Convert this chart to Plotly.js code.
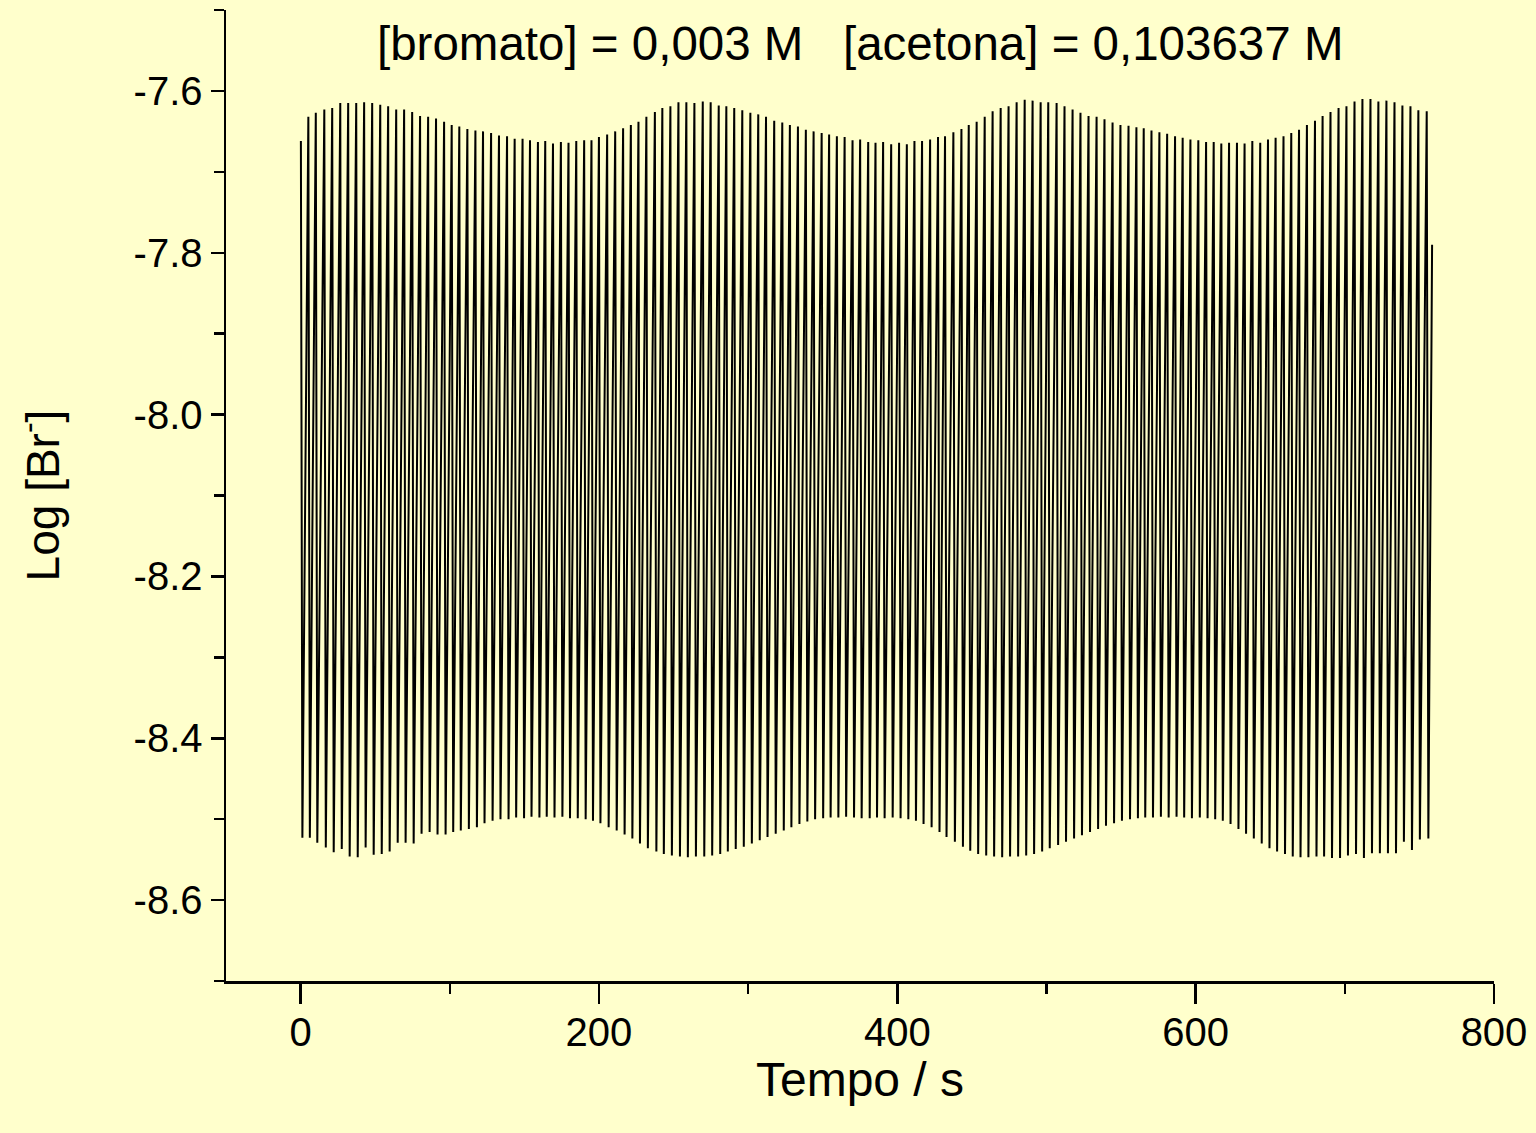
<!DOCTYPE html>
<html>
<head>
<meta charset="utf-8">
<script src="https://cdn.plot.ly/plotly-3.0.1.min.js"></script>
<style>
html,body{margin:0;padding:0;background:#FFFFCC;}
#chart{width:1536px;height:1133px;}
</style>
</head>
<body>
<div id="chart"></div>
<script>
// Times of each spike maximum (s)
const peakTimes = [
0.2,5.2,10.2,15.9,21.2,26.6,31.9,37.3,42.6,48.0,53.4,58.7,64.1,69.4,74.8,80.1,85.5,90.8,96.2,101.3,106.4,111.8,117.2,122.3,127.7,133.0,138.4,143.5,148.8,153.8,159.1,164.0,169.2,174.5,179.6,184.8,
190.1,195.0,200.0,205.5,210.9,216.2,221.4,226.5,231.8,237.5,242.5,247.9,253.3,258.6,264.0,269.6,274.9,280.3,285.4,290.7,296.1,301.5,306.8,312.0,317.5,322.9,328.0,333.4,338.7,343.9,349.3,354.3,359.5,364.7,370.0,375.1,
380.5,385.4,390.5,395.9,401.2,406.4,411.5,416.6,422.0,427.3,432.0,437.6,443.0,447.9,453.2,458.6,463.9,469.3,474.6,480.0,485.4,490.7,496.1,501.2,506.8,512.1,517.5,522.8,528.2,533.6,538.9,544.3,549.6,555.0,560.3,565.2,
570.4,575.7,580.9,586.2,591.3,596.5,601.8,607.0,612.1,617.2,622.4,627.7,632.8,638.0,643.3,648.5,653.6,658.9,664.1,669.3,674.6,680.0,685.1,690.4,695.8,701.1,706.5,711.8,717.2,722.5,727.9,733.3,738.6,744.0,749.3,754.9
];
// Log[Br-] at each spike maximum
const peakValues = [
-7.662,-7.632,-7.627,-7.623,-7.621,-7.615,-7.615,-7.615,-7.614,-7.615,-7.617,-7.619,-7.623,-7.623,-7.626,-7.631,-7.632,-7.634,-7.638,-7.642,-7.644,-7.647,-7.649,-7.650,-7.652,-7.655,-7.656,-7.659,-7.659,-7.661,-7.663,-7.662,-7.665,-7.663,-7.664,-7.662,
-7.661,-7.661,-7.657,-7.654,-7.650,-7.646,-7.642,-7.638,-7.632,-7.626,-7.621,-7.619,-7.614,-7.614,-7.615,-7.613,-7.614,-7.618,-7.619,-7.621,-7.624,-7.627,-7.629,-7.632,-7.637,-7.639,-7.642,-7.644,-7.648,-7.650,-7.652,-7.654,-7.656,-7.657,-7.661,-7.660,
-7.663,-7.664,-7.663,-7.666,-7.664,-7.666,-7.662,-7.662,-7.660,-7.657,-7.656,-7.651,-7.647,-7.642,-7.638,-7.632,-7.625,-7.621,-7.619,-7.614,-7.611,-7.612,-7.614,-7.614,-7.615,-7.619,-7.623,-7.627,-7.631,-7.632,-7.635,-7.639,-7.642,-7.643,-7.645,-7.646,
-7.649,-7.651,-7.653,-7.656,-7.658,-7.660,-7.661,-7.663,-7.663,-7.665,-7.664,-7.664,-7.665,-7.662,-7.664,-7.660,-7.658,-7.656,-7.652,-7.648,-7.642,-7.637,-7.631,-7.626,-7.621,-7.619,-7.613,-7.610,-7.610,-7.613,-7.612,-7.614,-7.618,-7.619,-7.624,-7.625
];
// Times of each minimum following a spike (s)
const troughTimes = [
1.2,6.2,11.2,16.9,22.2,27.6,32.9,38.3,43.6,49.0,54.4,59.7,65.1,70.4,75.8,81.1,86.5,91.8,97.2,102.3,107.4,112.8,118.2,123.3,128.7,134.0,139.4,144.5,149.8,154.8,160.1,165.0,170.2,175.5,180.6,185.8,
191.1,196.0,201.0,206.5,211.9,217.2,222.4,227.5,232.8,238.5,243.5,248.9,254.3,259.6,265.0,270.6,275.9,281.3,286.4,291.7,297.1,302.5,307.8,313.0,318.5,323.9,329.0,334.4,339.7,344.9,350.3,355.3,360.5,365.7,371.0,376.1,
381.5,386.4,391.5,396.9,402.2,407.4,412.5,417.6,423.0,428.3,433.0,438.6,444.0,448.9,454.2,459.6,464.9,470.3,475.6,481.0,486.4,491.7,497.1,502.2,507.8,513.1,518.5,523.8,529.2,534.6,539.9,545.3,550.6,556.0,561.3,566.2,
571.4,576.7,581.9,587.2,592.3,597.5,602.8,608.0,613.1,618.2,623.4,628.7,633.8,639.0,644.3,649.5,654.6,659.9,665.1,670.3,675.6,681.0,686.1,691.4,696.8,702.1,707.5,712.8,718.2,723.5,728.9,734.3,739.6,745.0,750.3,756.0
];
// Log[Br-] at each minimum
const troughValues = [
-8.523,-8.523,-8.529,-8.535,-8.541,-8.537,-8.546,-8.547,-8.535,-8.544,-8.543,-8.540,-8.529,-8.529,-8.530,-8.518,-8.516,-8.519,-8.519,-8.516,-8.514,-8.512,-8.510,-8.505,-8.502,-8.500,-8.500,-8.498,-8.499,-8.497,-8.498,-8.497,-8.498,-8.497,-8.499,-8.499,
-8.500,-8.502,-8.505,-8.510,-8.514,-8.519,-8.524,-8.530,-8.536,-8.540,-8.543,-8.545,-8.546,-8.547,-8.546,-8.546,-8.545,-8.543,-8.540,-8.537,-8.534,-8.530,-8.526,-8.522,-8.518,-8.514,-8.510,-8.506,-8.503,-8.500,-8.499,-8.498,-8.498,-8.497,-8.498,-8.499,
-8.499,-8.498,-8.499,-8.498,-8.499,-8.500,-8.502,-8.506,-8.510,-8.516,-8.522,-8.528,-8.534,-8.539,-8.543,-8.545,-8.546,-8.547,-8.546,-8.546,-8.545,-8.543,-8.540,-8.536,-8.532,-8.528,-8.524,-8.520,-8.516,-8.512,-8.508,-8.505,-8.502,-8.500,-8.499,-8.498,
-8.498,-8.497,-8.498,-8.497,-8.498,-8.499,-8.498,-8.499,-8.500,-8.502,-8.506,-8.512,-8.518,-8.524,-8.530,-8.536,-8.540,-8.543,-8.546,-8.547,-8.547,-8.546,-8.546,-8.548,-8.548,-8.545,-8.543,-8.548,-8.542,-8.542,-8.542,-8.542,-8.528,-8.538,-8.525,-8.524
];
// final partial rise at the end of the record
const endTime = [758.5];
const endValue = [-7.79];

const xTickVals = [0,200,400,600,800];
const xTickText = ["0","200","400","600","800"];
const yTickVals = [-7.6,-7.8,-8.0,-8.2,-8.4,-8.6];
const yTickText = ["-7.6","-7.8","-8.0","-8.2","-8.4","-8.6"];

const titleText = "[bromato] = 0,003 M&nbsp;&nbsp;&nbsp;[acetona] = 0,103637 M";
const xTitle = "Tempo / s";
const yTitle = "Log [Br<sup>-</sup>]";

// assemble the line: max, min, max, min ...
const xs = [], ys = [];
for (let i = 0; i < peakTimes.length; i++) {
  xs.push(peakTimes[i]); ys.push(peakValues[i]);
  xs.push(troughTimes[i]); ys.push(troughValues[i]);
}
for (let i = 0; i < endTime.length; i++) { xs.push(endTime[i]); ys.push(endValue[i]); }

const trace = {
  x: xs, y: ys, type: 'scatter', mode: 'lines',
  line: {color: '#000000', width: 2},
  hoverinfo: 'skip'
};

const font = "Liberation Sans, Arial, sans-serif";
const layout = {
  width: 1536, height: 1133,
  paper_bgcolor: '#FFFFCC', plot_bgcolor: '#FFFFCC',
  margin: {l: 226, r: 42, t: 10, b: 152},
  showlegend: false,
  font: {family: font, color: '#000'},
  xaxis: {
    range: [-50, 800], showgrid: false, zeroline: false,
    showline: true, linecolor: '#000', linewidth: 2.5,
    ticks: 'outside', ticklen: 20, tickwidth: 2.5, tickcolor: '#000',
    ticklabelstandoff: -6,
    tickvals: xTickVals, ticktext: xTickText,
    tickfont: {size: 40, family: font},
    minor: {dtick: 100, tick0: 0, ticks: 'outside', ticklen: 10, tickwidth: 2.5, tickcolor: '#000', showgrid: false},
    title: {text: xTitle, font: {size: 48, family: font}, standoff: 0}
  },
  yaxis: {
    range: [-8.7, -7.5], showgrid: false, zeroline: false,
    showline: true, linecolor: '#000', linewidth: 2.5,
    ticks: 'outside', ticklen: 13, tickwidth: 2.5, tickcolor: '#000',
    tickvals: yTickVals, ticktext: yTickText,
    tickfont: {size: 40, family: font},
    minor: {dtick: 0.1, tick0: -7.5, ticks: 'outside', ticklen: 10, tickwidth: 2.5, tickcolor: '#000', showgrid: false},
    title: {text: yTitle, font: {size: 46, family: font}, standoff: 60}
  },
  annotations: [{
    text: titleText, xref: 'paper', yref: 'paper', x: 0.5, y: 0.965,
    xanchor: 'center', yanchor: 'middle', showarrow: false,
    font: {size: 47.5, family: font, color: '#000'}
  }]
};

Plotly.newPlot('chart', [trace], layout, {displayModeBar: false, staticPlot: true});
</script>
</body>
</html>
